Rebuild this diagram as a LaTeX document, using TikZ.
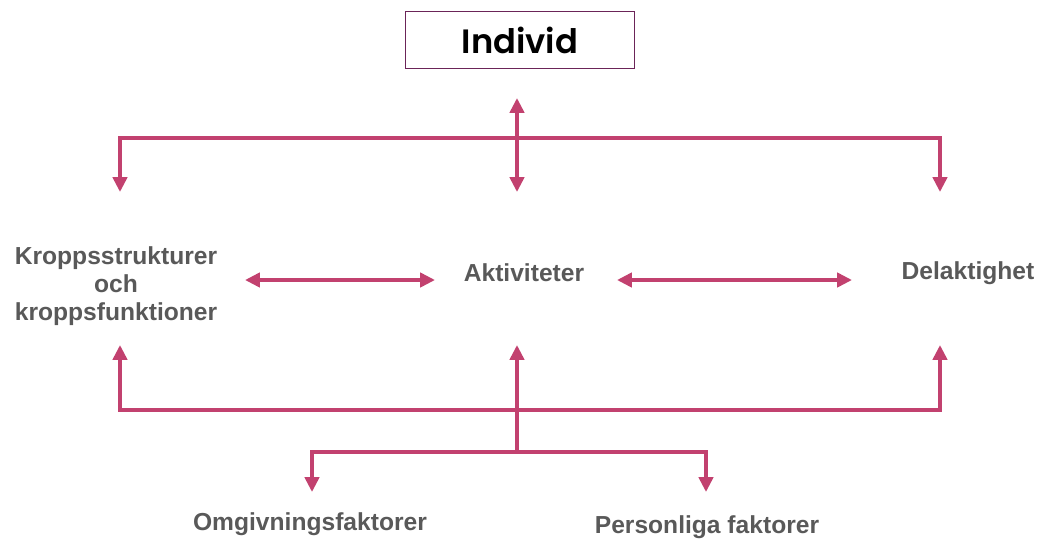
\documentclass[tikz,border=0pt]{standalone}
\usepackage{fontspec}
\setmainfont{Liberation Sans}
\newfontfamily\rubrikfont{Poppins}[BoldFont={Poppins SemiBold}]
\usetikzlibrary{arrows.meta,positioning}
\definecolor{rosa}{HTML}{C2416F}
\definecolor{gra}{HTML}{595959}
\definecolor{lila}{HTML}{6B2458}

\begin{document}
\begin{tikzpicture}[x=0.025cm,y=-0.025cm,
  >={Triangle[length=10.5pt,width=10pt]},
  pil/.style={draw=rosa,line width=3pt,line join=miter},
  faktor/.style={text=gra,font=\fontsize{17.5}{20}\selectfont\bfseries,align=center,inner sep=0pt},
  rubrik/.style={draw=lila,line width=0.9pt,minimum width=163pt,minimum height=41pt,
    font=\rubrikfont\fontsize{24}{28}\selectfont\bfseries}]
\useasboundingbox (0,0) rectangle (1042,542);
\node[rubrik] (individ) at (520,40) {Individ};
\node[faktor] (kropp) at (116,286) {Kroppsstrukturer\\och\\kroppsfunktioner};
\node[faktor] (akt) at (524,273) {Aktiviteter};
\node[faktor] (delak) at (968,273) {Delaktighet};
\node[faktor] (omg) at (310,524) {Omgivningsfaktorer};
\node[faktor] (pers) at (707,527) {Personliga faktorer};
% punkter for pilarna
\coordinate (i-ut) at (517,98);
\coordinate (j-topp) at (517,138);
\coordinate (a-in) at (517,192);
\coordinate (k-in) at (120,192);
\coordinate (d-in) at (940,192);
\coordinate (k-h) at (245,280);
\coordinate (a-v) at (435,280);
\coordinate (a-h) at (617,280);
\coordinate (d-v) at (852,280);
\coordinate (k-ut) at (120,345);
\coordinate (a-ut) at (517,345);
\coordinate (d-ut) at (940,345);
\coordinate (j-mitt) at (517,410);
\coordinate (j-lag) at (517,452);
\coordinate (o-in) at (312,492);
\coordinate (p-in) at (706,492);
\draw[pil,<->] (i-ut) -- (a-in);
\draw[pil,<->] (k-in) |- (j-topp) -| (d-in);
\draw[pil,<->] (k-h) -- (a-v);
\draw[pil,<->] (a-h) -- (d-v);
\draw[pil,<->] (k-ut) |- (j-mitt) -| (d-ut);
\draw[pil,->] (j-lag) -- (a-ut);
\draw[pil,<->] (o-in) |- (j-lag) -| (p-in);
\end{tikzpicture}
\end{document}
